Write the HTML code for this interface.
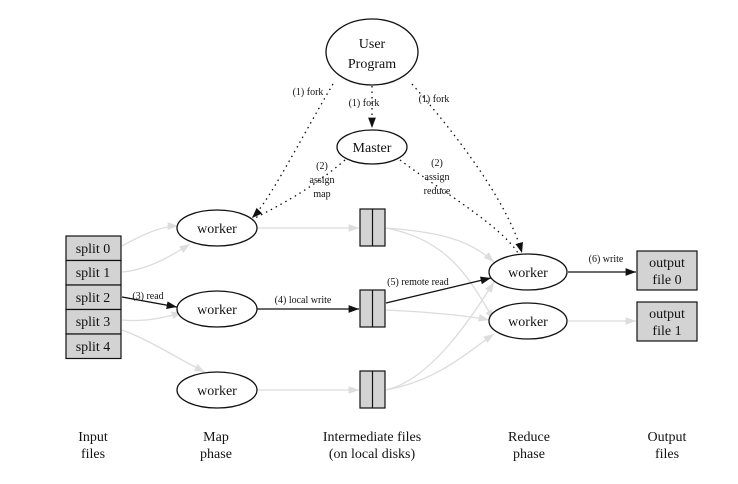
<!DOCTYPE html>
<html><head><style>body{margin:0;background:#fff}svg{display:block}text{font-family:"Liberation Serif",serif;fill:#111}</style></head><body>
<svg width="738" height="484" viewBox="0 0 738 484" xmlns="http://www.w3.org/2000/svg">
<defs>
<marker id="a" markerWidth="8" markerHeight="6" refX="8" refY="3" orient="auto"><path d="M0,0L8,3L0,6z" fill="#111"/></marker>
<marker id="g" markerWidth="8" markerHeight="6" refX="8" refY="3" orient="auto"><path d="M0,0L8,3L0,6z" fill="#ddd"/></marker>
</defs>
<g stroke="#dcdcdc" stroke-width="1.3" fill="none" marker-end="url(#g)">
<path d="M122,246 C140,236 160,226 178,226"/>
<path d="M122,272 C145,270 165,260 190,244"/>
<path d="M122,320 C145,322 165,318 182,312"/>
<path d="M122,330 C150,340 180,360 205,372"/>
<path d="M257,228 L359,228"/>
<path d="M257,390 L359,390"/>
<path d="M386,228 C440,232 470,240 494,262"/>
<path d="M386,228 C450,240 470,280 494,320"/>
<path d="M386,310 C430,312 470,316 489,320"/>
<path d="M386,390 C430,380 470,320 494,282"/>
<path d="M386,390 C440,380 470,350 494,334"/>
<path d="M568,321 L636,321"/>
</g>
<g stroke="#111" stroke-width="1.3" stroke-dasharray="1.5,4" fill="none">
<path d="M333,84 C300,140 270,200 252,218" marker-end="url(#a)"/>
<path d="M372,86 L372,128" marker-end="url(#a)"/>
<path d="M412,84 C470,150 510,210 522,253" marker-end="url(#a)"/>
<path d="M345,160 C310,190 280,205 255,218"/>
<path d="M400,160 C440,190 500,225 518,253"/>
</g>
<g stroke="#111" stroke-width="1.3" fill="none">
<path d="M122,297 L177,307" marker-end="url(#a)"/>
<path d="M257,309 L359,309" marker-end="url(#a)"/>
<path d="M386,303 L491,278" marker-end="url(#a)"/>
<path d="M568,272 L636,272" marker-end="url(#a)"/>
</g>
<g stroke="#111" stroke-width="1.3" fill="#fff">
<ellipse cx="372" cy="52" rx="46" ry="33"/>
<ellipse cx="372" cy="147" rx="35" ry="17"/>
<ellipse cx="217" cy="228" rx="40" ry="18"/>
<ellipse cx="217" cy="309" rx="40" ry="18"/>
<ellipse cx="217" cy="390" rx="40" ry="18"/>
<ellipse cx="528" cy="272" rx="39" ry="18"/>
<ellipse cx="528" cy="321" rx="39" ry="18"/>
</g>
<g stroke="#111" stroke-width="1.2" fill="#d3d3d3">
<rect x="66" y="236" width="55" height="24.5"/><rect x="66" y="260.5" width="55" height="24.5"/><rect x="66" y="285" width="55" height="24.5"/><rect x="66" y="309.5" width="55" height="24.5"/><rect x="66" y="334" width="55" height="24.5"/>
<rect x="360" y="209" width="25" height="37"/><line x1="372.5" y1="209" x2="372.5" y2="246"/>
<rect x="360" y="290" width="25" height="37"/><line x1="372.5" y1="290" x2="372.5" y2="327"/>
<rect x="360" y="371" width="25" height="37"/><line x1="372.5" y1="371" x2="372.5" y2="408"/>
<rect x="637" y="251" width="60" height="39"/>
<rect x="637" y="302" width="60" height="39"/>
</g>
<g font-size="14" text-anchor="middle">
<text x="372" y="48">User</text><text x="372" y="68">Program</text>
<text x="372" y="152">Master</text>
<text x="217" y="233">worker</text><text x="217" y="314">worker</text><text x="217" y="395">worker</text>
<text x="528" y="277">worker</text><text x="528" y="326">worker</text>
<text x="93" y="253">split 0</text><text x="93" y="277">split 1</text><text x="93" y="302">split 2</text><text x="93" y="326">split 3</text><text x="93" y="351">split 4</text>
<text x="667" y="267">output</text><text x="667" y="284">file 0</text>
<text x="667" y="318">output</text><text x="667" y="335">file 1</text>
<text x="93" y="441">Input</text><text x="93" y="458">files</text>
<text x="216" y="441">Map</text><text x="216" y="458">phase</text>
<text x="372" y="441">Intermediate files</text><text x="372" y="458">(on local disks)</text>
<text x="529" y="441">Reduce</text><text x="529" y="458">phase</text>
<text x="667" y="441">Output</text><text x="667" y="458">files</text>
</g>
<g font-size="10" text-anchor="middle">
<text x="308" y="95">(1) fork</text>
<text x="364" y="106">(1) fork</text>
<text x="434" y="102">(1) fork</text>
<text x="322" y="169">(2)</text><text x="322" y="183">assign</text><text x="322" y="197">map</text>
<text x="437" y="166">(2)</text><text x="437" y="180">assign</text><text x="437" y="194">reduce</text>
<text x="148" y="299">(3) read</text>
<text x="303" y="303">(4) local write</text>
<text x="418" y="285">(5) remote read</text>
<text x="606" y="262">(6) write</text>
</g>
</svg>
</body></html>
